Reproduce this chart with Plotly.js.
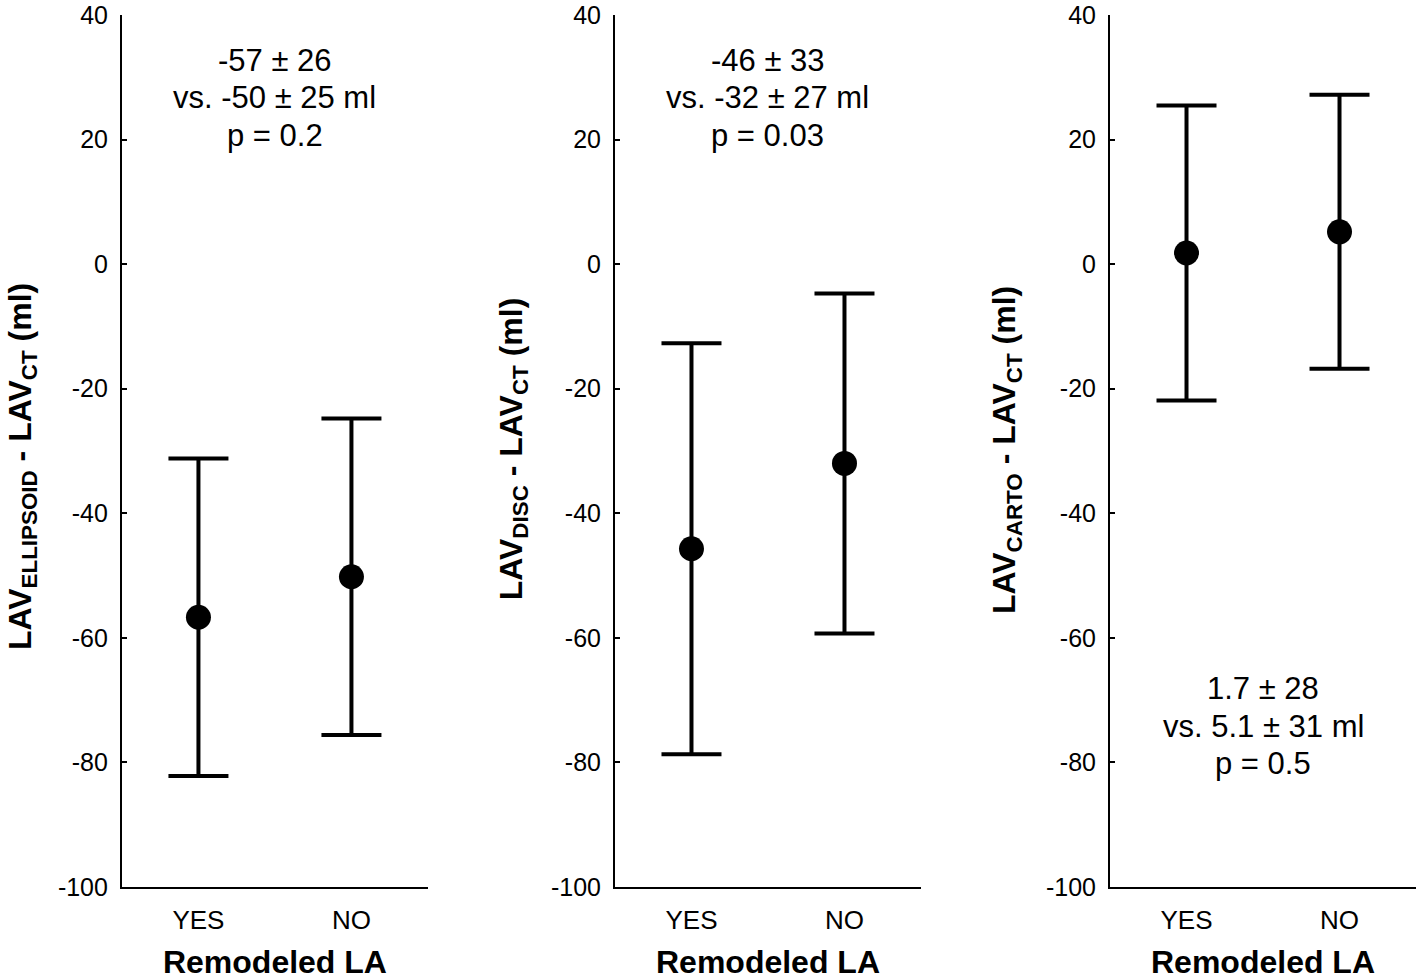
<!DOCTYPE html>
<html>
<head>
<meta charset="utf-8">
<script src="https://cdn.plot.ly/plotly-3.0.1.min.js"></script>
<style>
body { margin: 0; background: #fff; }
#graph { width: 1418px; height: 980px; }
</style>
</head>
<body>
<div id="graph"></div>
<script>
var categories = ["YES", "NO"];

var ellipsoidMean = [-56.7, -50.2];
var ellipsoidErr = [25.5, 25.4];

var discMean = [-45.7, -32.0];
var discErr = [33.0, 27.3];

var cartoMean = [1.8, 5.2];
var cartoErr = [23.7, 22.0];

var yTickVals = [-100, -80, -60, -40, -20, 0, 20, 40];
var yTickText = ["-100", "-80", "-60", "-40", "-20", "0", "20", "40"];

var panelTitles = [
	"<b>LAV<sub>ELLIPSOID</sub> - LAV<sub>CT</sub> (ml)</b>",
	"<b>LAV<sub>DISC</sub> - LAV<sub>CT</sub> (ml)</b>",
	"<b>LAV<sub>CARTO</sub> - LAV<sub>CT</sub> (ml)</b>"
];
var titleX = [0.0158, 0.3618, 0.7094];
var titleY = [0.482, 0.502, 0.501];

var panelNotes = [
	["-57 ± 26", "vs. -50 ± 25 ml", "p = 0.2"],
	["-46 ± 33", "vs. -32 ± 27 ml", "p = 0.03"],
	["1.7 ± 28", "vs. 5.1 ± 31 ml", "p = 0.5"]
];
var noteY = [26.7, 26.7, -74.2];

var FONT = "Arial, 'Liberation Sans', sans-serif";

function makeTrace(means, errs, n)
{
	var suffix = n == 1 ? "" : n;

	return {
		type: "scatter",
		mode: "markers",
		x: categories,
		y: means,
		xaxis: "x" + suffix,
		yaxis: "y" + suffix,
		marker: { color: "#000", size: 25 },
		error_y:
		{
			type: "data",
			array: errs,
			visible: true,
			color: "#000",
			thickness: 4,
			width: 30
		},
		showlegend: false,
		hoverinfo: "none"
	};
}

function xAxis(domain, anchor)
{
	return {
		domain: domain,
		anchor: anchor,
		type: "category",
		range: [-0.5, 1.5],
		showgrid: false,
		zeroline: false,
		showline: true,
		linecolor: "#000",
		linewidth: 2,
		ticks: "",
		ticklabelstandoff: 9,
		tickfont: { family: FONT, size: 26, color: "#000" },
		title:
		{
			text: "<b>Remodeled LA</b>",
			font: { family: FONT, size: 32, color: "#000" },
			standoff: 18
		}
	};
}

function yAxis(anchor)
{
	return {
		anchor: anchor,
		range: [-100.02, 40.02],
		tickvals: yTickVals,
		ticktext: yTickText,
		ticklabeloverflow: "allow",
		showgrid: false,
		zeroline: false,
		showline: true,
		linecolor: "#000",
		linewidth: 2,
		ticks: "inside",
		ticklen: 5,
		tickwidth: 2,
		tickcolor: "#000",
		ticklabelstandoff: 7,
		tickfont: { family: FONT, size: 25, color: "#000" }
	};
}

function genGraph()
{
	var data, layout, annotations = [], i, k, suffix;

	data = [
		makeTrace(ellipsoidMean, ellipsoidErr, 1),
		makeTrace(discMean, discErr, 2),
		makeTrace(cartoMean, cartoErr, 3)
	];

	for (i = 0; i < 3; i++)
	{
		suffix = i == 0 ? "" : i + 1;
		for (k = 0; k < panelNotes[i].length; k++)
		{
			annotations.push({
				xref: "x" + suffix,
				yref: "y" + suffix,
				x: 0.5,
				y: noteY[i],
				yshift: (1 - k) * 37.5,
				yanchor: "middle",
				text: panelNotes[i][k],
				showarrow: false,
				font: { family: FONT, size: 31, color: "#000" }
			});
		}

		// y axis titles as rotated annotations, so they sit where the original has them
		annotations.push({
			xref: "paper",
			yref: "paper",
			x: titleX[i],
			y: titleY[i],
			xanchor: "center",
			yanchor: "middle",
			textangle: -90,
			text: panelTitles[i],
			showarrow: false,
			font: { family: FONT, size: 32, color: "#000" }
		});
	}

	layout =
	{
		width: 1418,
		height: 980,
		margin: { l: 0, r: 0, t: 15, b: 93 },
		paper_bgcolor: "#fff",
		plot_bgcolor: "#fff",
		xaxis: xAxis([0.0860, 0.3018], "y"),
		yaxis: yAxis("x"),
		xaxis2: xAxis([0.4337, 0.6495], "y2"),
		yaxis2: yAxis("x2"),
		xaxis3: xAxis([0.7828, 0.9986], "y3"),
		yaxis3: yAxis("x3"),
		annotations: annotations
	};

	Plotly.newPlot("graph", data, layout, { displayModeBar: false, staticPlot: true });
}

genGraph();
</script>
</body>
</html>
